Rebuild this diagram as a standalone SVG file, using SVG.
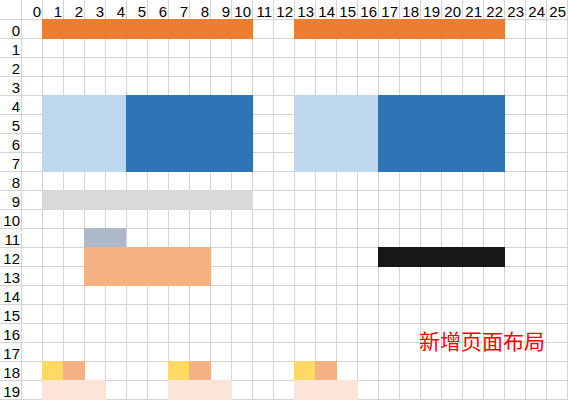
<svg xmlns="http://www.w3.org/2000/svg" width="568" height="400" viewBox="0 0 568 400">
<style>
.g{stroke:#D4D4D4;stroke-width:1;fill:none}
.h{font-family:"Liberation Sans",Arial,sans-serif;font-size:15px;fill:#000;text-anchor:end}
.orange{fill:#ED7D31}.lblue{fill:#BDD7EE}.dblue{fill:#2E75B6}.gray{fill:#D9D9D9}
.gblue{fill:#ADB9CA}.salmon{fill:#F4B183}.black{fill:#171717}.yellow{fill:#FFD966}.peach{fill:#FCE4D6}
</style>
<rect width="568" height="400" fill="#fff"/>
<g id="grid" class="g">
<path d="M21.5 0V400M42.5 0V400M63.5 0V400M84.5 0V400M105.5 0V400M126.5 0V400M147.5 0V400M168.5 0V400M189.5 0V400M210.5 0V400M231.5 0V400M252.5 0V400M273.5 0V400M294.5 0V400M315.5 0V400M336.5 0V400M357.5 0V400M378.5 0V400M399.5 0V400M420.5 0V400M441.5 0V400M462.5 0V400M483.5 0V400M504.5 0V400M525.5 0V400M546.5 0V400M567.5 0V400"/>
<path d="M0 19.5H568M0 38.5H568M0 57.5H568M0 76.5H568M0 95.5H568M0 114.5H568M0 133.5H568M0 152.5H568M0 171.5H568M0 190.5H568M0 209.5H568M0 228.5H568M0 247.5H568M0 266.5H568M0 285.5H568M0 304.5H568M0 323.5H568M0 342.5H568M0 361.5H568M0 380.5H568M0 399.5H568"/>
</g>
<g id="col-headers" class="h">
<text x="41" y="17">0</text><text x="62" y="17">1</text><text x="83" y="17">2</text><text x="104" y="17">3</text><text x="125" y="17">4</text><text x="146" y="17">5</text><text x="167" y="17">6</text><text x="188" y="17">7</text><text x="209" y="17">8</text><text x="230" y="17">9</text><text x="251" y="17">10</text><text x="272" y="17">11</text><text x="293" y="17">12</text><text x="314" y="17">13</text><text x="335" y="17">14</text><text x="356" y="17">15</text><text x="377" y="17">16</text><text x="398" y="17">17</text><text x="419" y="17">18</text><text x="440" y="17">19</text><text x="461" y="17">20</text><text x="482" y="17">21</text><text x="503" y="17">22</text><text x="524" y="17">23</text><text x="545" y="17">24</text><text x="566" y="17">25</text>
</g>
<g id="row-headers" class="h">
<text x="20" y="36">0</text><text x="20" y="55">1</text><text x="20" y="74">2</text><text x="20" y="93">3</text><text x="20" y="112">4</text><text x="20" y="131">5</text><text x="20" y="150">6</text><text x="20" y="169">7</text><text x="20" y="188">8</text><text x="20" y="207">9</text><text x="20" y="226">10</text><text x="20" y="245">11</text><text x="20" y="264">12</text><text x="20" y="283">13</text><text x="20" y="302">14</text><text x="20" y="321">15</text><text x="20" y="340">16</text><text x="20" y="359">17</text><text x="20" y="378">18</text><text x="20" y="397">19</text>
</g>
<g id="left-page">
<rect class="orange" x="42" y="19" width="211" height="20"/>
<rect class="lblue" x="42" y="95" width="84" height="77"/>
<rect class="dblue" x="126" y="95" width="127" height="77"/>
<rect class="gray" x="42" y="190" width="211" height="20"/>
<rect class="gblue" x="84" y="228" width="42" height="19"/>
<rect class="salmon" x="84" y="247" width="127" height="39"/>
</g>
<g id="right-page">
<rect class="orange" x="294" y="19" width="211" height="20"/>
<rect class="lblue" x="294" y="95" width="84" height="77"/>
<rect class="dblue" x="378" y="95" width="127" height="77"/>
<rect class="black" x="378" y="247" width="127" height="20"/>
</g>
<g id="bottom-items">
<rect class="yellow" x="42" y="361" width="21" height="20"/>
<rect class="salmon" x="63" y="361" width="22" height="20"/>
<rect class="peach" x="42" y="380" width="64" height="20"/>
<rect class="yellow" x="168" y="361" width="21" height="20"/>
<rect class="salmon" x="189" y="361" width="22" height="20"/>
<rect class="peach" x="168" y="380" width="64" height="20"/>
<rect class="yellow" x="294" y="361" width="21" height="20"/>
<rect class="salmon" x="315" y="361" width="22" height="20"/>
<rect class="peach" x="294" y="380" width="64" height="20"/>
</g>
<g id="label">
<text x="419" y="349" style="font-family:'Noto Sans CJK SC','Noto Sans',sans-serif;font-size:21px;fill:#FF0000">新增页面布局</text>
</g>
</svg>
